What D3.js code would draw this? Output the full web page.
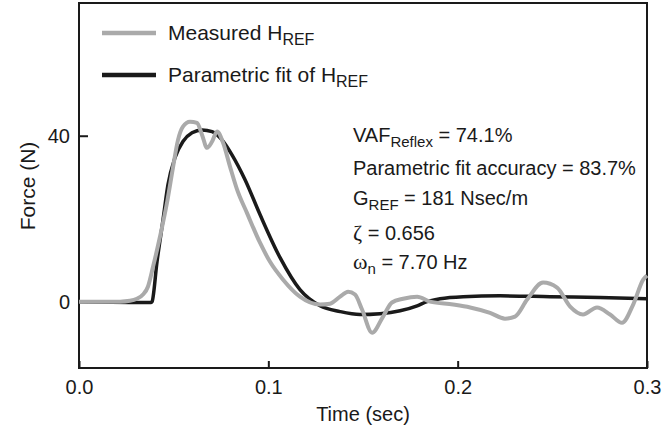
<!DOCTYPE html>
<html>
<head>
<meta charset="utf-8">
<script src="https://cdn.jsdelivr.net/npm/d3@7"></script>
<style>
  body { margin: 0; background: #fff; }
  text { font-family: "Liberation Sans", Arial, sans-serif; fill: #1a1a1a; }
</style>
</head>
<body>
<div id="chart"></div>
<script>
// Datos: tiempo (s) y fuerza (N)
const measuredTime = [0, 0.0217, 0.0269, 0.0306, 0.0338, 0.0364, 0.0391, 0.0428, 0.0465, 0.0497, 0.0523, 0.0549, 0.0586, 0.0623, 0.065, 0.0676, 0.0703, 0.0729, 0.0761, 0.0798, 0.0835, 0.0887, 0.0956, 0.1009, 0.1078, 0.1167, 0.1273, 0.1326, 0.1379, 0.1421, 0.1458, 0.1495, 0.1548, 0.1606, 0.1653, 0.1712, 0.1786, 0.1854, 0.1976, 0.2066, 0.2171, 0.225, 0.2303, 0.2367, 0.2451, 0.2525, 0.2594, 0.2662, 0.2736, 0.2805, 0.2868, 0.2927, 0.298, 0.3];
const measuredForce = [0, 0, 0.2, 0.7, 1.7, 3.6, 8.4, 15.7, 23.9, 32.5, 39.0, 42.2, 43.4, 43.1, 40.2, 37.1, 38.6, 41.0, 38.3, 32.5, 27.0, 21.4, 14.2, 9.6, 5.3, 1.2, -0.7, -0.5, 1.2, 2.4, 1.7, -1.9, -7.5, -3.6, -0.2, 0.7, 1.2, 0, -0.7, -1.4, -2.7, -4.1, -3.6, 0.5, 4.6, 3.4, -1.2, -3.1, -1.4, -3.1, -5.1, -0.7, 5.3, 6.3];

const fitTime = [0, 0.0381, 0.0386, 0.0412, 0.0444, 0.047, 0.0507, 0.0549, 0.0597, 0.065, 0.0703, 0.0755, 0.0808, 0.0877, 0.0956, 0.1062, 0.1167, 0.1273, 0.1379, 0.1484, 0.159, 0.1696, 0.1786, 0.1838, 0.1907, 0.2029, 0.2224, 0.2488, 0.2752, 0.3];
const fitForce = [0, -0.2, 0, 9.6, 19.8, 28.2, 34.7, 38.6, 40.7, 41.4, 41.0, 39.0, 35.4, 29.4, 21.0, 10.6, 2.9, -1.0, -2.4, -3.1, -2.9, -2.2, -1.0, 0, 0.7, 1.2, 1.4, 1.2, 1.0, 0.7];

// Ticks de los ejes
const xTicks = [0, 0.1, 0.2, 0.3];
const xTickLabels = ["0.0", "0.1", "0.2", "0.3"];
const yTicks = [0, 40];

// Dimensiones del gráfico
const width = 665;
const height = 433;
const margin = { top: 3, right: 18, bottom: 65, left: 79 };
const innerW = width - margin.left - margin.right;
const innerH = height - margin.top - margin.bottom;

const svg = d3.select("#chart").append("svg")
    .attr("width", width)
    .attr("height", height);

const g = svg.append("g")
    .attr("transform", `translate(${margin.left},${margin.top})`);

// Escalas
const x = d3.scaleLinear().domain([0, 0.3]).range([0, innerW]);
const y = d3.scaleLinear().domain([-16, 72]).range([innerH, 0]);

// Ejes con ticks hacia dentro
const xAxis = g.append("g")
    .attr("transform", `translate(0,${innerH})`)
    .call(d3.axisBottom(x).tickValues(xTicks).tickFormat((d, i) => xTickLabels[i]).tickSize(-7).tickPadding(12));
const yAxis = g.append("g")
    .call(d3.axisLeft(y).tickValues(yTicks).tickSize(-9).tickPadding(9));

[xAxis, yAxis].forEach(a => {
  a.select(".domain").remove();
  a.selectAll("line").attr("stroke", "#1a1a1a").attr("stroke-width", 2);
  a.selectAll("text").style("font-size", "20px").attr("fill", "#1a1a1a");
});

// Marco
g.append("rect")
    .attr("width", innerW)
    .attr("height", innerH)
    .attr("fill", "none")
    .attr("stroke", "#1a1a1a")
    .attr("stroke-width", 2);

// Líneas
const line = d3.line()
    .x(d => x(d[0]))
    .y(d => y(d[1]))
    .curve(d3.curveMonotoneX);

const measured = measuredTime.map((t, i) => [t, measuredForce[i]]);
const fit = fitTime.map((t, i) => [t, fitForce[i]]);

g.append("path")
    .datum(fit)
    .attr("fill", "none")
    .attr("stroke", "#1a1a1a")
    .attr("stroke-width", 3.5)
    .attr("d", line);

g.append("path")
    .datum(measured)
    .attr("fill", "none")
    .attr("stroke", "#aaaaaa")
    .attr("stroke-width", 4)
    .attr("stroke-linejoin", "round")
    .attr("d", line);

// Leyenda
const legend = [
  { label: "Measured H", sub: "REF", color: "#aaaaaa", y: 33 },
  { label: "Parametric fit of H", sub: "REF", color: "#1a1a1a", y: 75 }
];
legend.forEach(l => {
  svg.append("line")
      .attr("x1", 102).attr("x2", 156)
      .attr("y1", l.y).attr("y2", l.y)
      .attr("stroke", l.color)
      .attr("stroke-width", 4.5);
  const t = svg.append("text")
      .attr("x", 168).attr("y", l.y + 7)
      .style("font-size", "21px");
  t.append("tspan").text(l.label);
  t.append("tspan").attr("dy", 5).style("font-size", "16px").text(l.sub);
});

// Anotaciones
const ann = svg.append("g").style("font-size", "20px");
function annot(yPos, parts) {
  const t = ann.append("text").attr("x", 353).attr("y", yPos);
  let shift = 0;
  parts.forEach(p => {
    const ts = t.append("tspan").text(p.t);
    const target = p.sub ? 5 : 0;
    if (target !== shift) { ts.attr("dy", target - shift); shift = target; }
    if (p.sub) ts.style("font-size", "15px");
    if (p.serif) ts.style("font-family", "'Liberation Serif', serif").style("font-size", "22px");
  });
}
annot(142, [{ t: "VAF" }, { t: "Reflex", sub: true }, { t: " = 74.1%" }]);
annot(175, [{ t: "Parametric fit accuracy = 83.7%" }]);
annot(205, [{ t: "G" }, { t: "REF", sub: true }, { t: " = 181 Nsec/m" }]);
annot(240, [{ t: "ζ", serif: true }, { t: " = 0.656" }]);
annot(269, [{ t: "ω", serif: true }, { t: "n", sub: true }, { t: " = 7.70 Hz" }]);

// Títulos de ejes
svg.append("text")
    .attr("x", margin.left + x(0.15))
    .attr("y", 421)
    .attr("text-anchor", "middle")
    .style("font-size", "20px")
    .text("Time (sec)");

svg.append("text")
    .attr("transform", "translate(35,186) rotate(-90)")
    .attr("text-anchor", "middle")
    .style("font-size", "21px")
    .text("Force (N)");
</script>
</body>
</html>
